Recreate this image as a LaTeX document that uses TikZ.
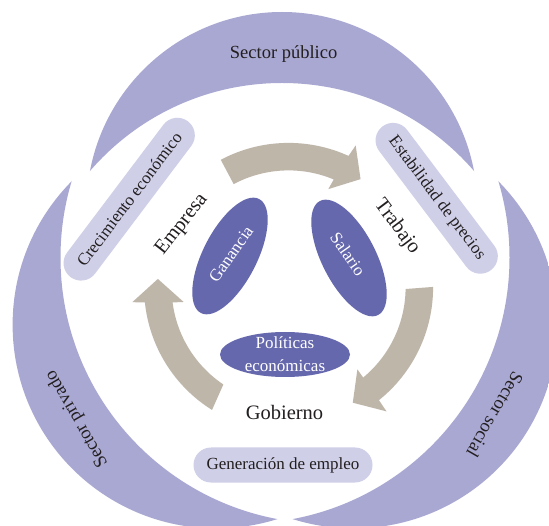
\documentclass[tikz,border=0pt]{standalone}
\usepackage{fontspec}
\setmainfont{Liberation Serif}
\usetikzlibrary{shapes.geometric}
\definecolor{lunec}{HTML}{A9A8D2}
\definecolor{pillc}{HTML}{CFCFE8}
\definecolor{ellc}{HTML}{6668AE}
\definecolor{arrc}{HTML}{BFB6AA}
\definecolor{txtc}{HTML}{231F20}
\begin{document}
\begin{tikzpicture}[x=1pt,y=1pt,
  lunefill/.style={fill=lunec, even odd rule},
  pill/.style={fill=pillc, rounded corners=17.5pt, minimum height=35pt, inner sep=0pt,
    text=txtc, font=\fontsize{17}{20}\selectfont},
  sect/.style={inner sep=0pt, text=txtc, font=\fontsize{18.5}{22}\selectfont},
  lbl/.style={inner sep=0pt, text=txtc, font=\fontsize{20.5}{24}\selectfont},
  ell/.style={ellipse, fill=ellc, inner sep=0pt},
  elltext/.style={inner sep=0pt, text=white, font=\fontsize{17}{23.5}\selectfont, align=center},
  arr/.style={fill=arrc}]
\useasboundingbox (0,0) rectangle (549,-526);
\fill[white] (0,0) rectangle (549,-526);

% top lune
\begin{scope}
\clip (282,-207.4) circle[radius=195.4];
\fill[lunefill] (-50,50) rectangle (650,-650) (282,-336.5) circle[radius=253.5];
\end{scope}
% left lune
\begin{scope}
\clip (216.3,-324.7) circle[radius=203.7];
\fill[lunefill] (-50,50) rectangle (650,-650) (326.5,-257.6) circle[radius=266];
\end{scope}
% right lune
\begin{scope}
\clip (353.7,-324.7) circle[radius=203.7];
\fill[lunefill] (-50,50) rectangle (650,-650) (243.5,-257.6) circle[radius=266];
\end{scope}

\node[sect] (pub) at (283.6,-54.5) {Sector público};
\node[sect, rotate=120] (priv) at (77,-419) {Sector privado};
\node[sect, rotate=-120] (soc) at (495,-415) {Sector social};

% pills
\node[pill, minimum width=195pt, rotate=53] (crec) at (129.2,-199.2) {Crecimiento económico};
\node[pill, minimum width=180pt, rotate=-53] (esta) at (436.7,-198.3) {Estabilidad de precios};
\node[pill, minimum width=179pt] (gen) at (283,-465) {Generación de empleo};

% arrows
\begin{scope}[shift={(288.6,-287.4)}]
\fill[arr] (118:144.5) arc[start angle=118, end angle=65.5, radius=144.5]
  -- (64.7:157) -- (56.4:130) -- (68:106) -- (67.3:117)
  arc[start angle=67.3, end angle=118, radius=117] -- cycle;
\fill[arr] (238:144.5) arc[start angle=238, end angle=186, radius=144.5]
  -- (185.4:157) -- (176.3:131) -- (187.9:106) -- (187.4:117)
  arc[start angle=187.4, end angle=236.1, radius=117] -- cycle;
\fill[arr] (0.2:144.5) arc[start angle=0.2, end angle=-51.3, radius=144.5]
  -- (-51.7:158) -- (-60.9:132) -- (-50:107) -- (-50.4:117)
  arc[start angle=-50.4, end angle=-0.8, radius=117] -- cycle;
\end{scope}

% ellipses
\node[ell, minimum width=128pt, minimum height=54pt, rotate=63] (gan) at (230,-256) {};
\node[elltext, rotate=55] (gantxt) at (231,-254) {Ganancia};
\node[ell, minimum width=128pt, minimum height=54pt, rotate=-63] (sal) at (349,-258) {};
\node[elltext, rotate=-55] (saltxt) at (348,-254) {Salario};
\node[ell, minimum width=130pt, minimum height=45pt] (pol) at (285,-354.5) {};
\node[elltext] (poltxt) at (285,-354) {Políticas\\económicas};

% labels
\node[lbl, rotate=52] (emp) at (182,-224.5) {Empresa};
\node[lbl, rotate=-53] (trab) at (397,-227) {Trabajo};
\node[lbl, anchor=base] (gob) at (284.5,-420) {Gobierno};
\end{tikzpicture}
\end{document}
